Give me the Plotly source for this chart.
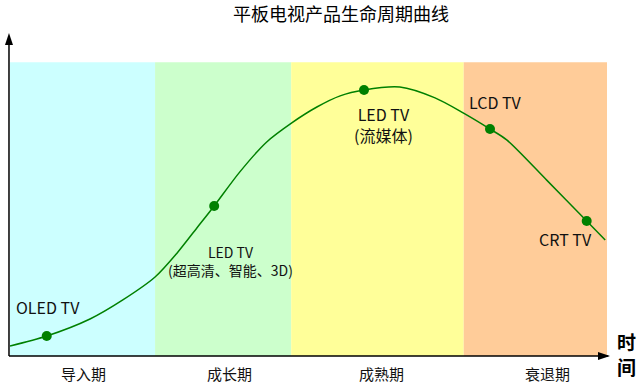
import plotly.graph_objects as go

# Curve samples (time position, sales level)
curve_x = [0, 6.15, 13.4, 18.9, 24.3, 28.0, 31.3, 34.2, 38.5, 43.0, 47.2, 51.4, 55.3, 59.3,
           65.3, 71.2, 75.9, 80.4, 83.2, 89.9, 96.6, 99.7]
curve_y = [3.4, 6.8, 12.6, 19.1, 26.9, 35.1, 43.6, 51.1, 62.7, 72.9, 79.4, 84.8, 88.6, 90.6,
           91.6, 87.9, 82.8, 77.3, 73.6, 59.9, 46.0, 39.5]

# Product points
point_x = [6.15, 34.2, 59.3, 80.4, 96.6]
point_y = [6.8, 51.1, 90.6, 77.3, 46.0]

# Phase bands
phase_names = ["导入期", "成长期", "成熟期", "衰退期"]
phase_edges = [0, 24.3, 47.1, 76.0, 100]
phase_colors = ["#ccffff", "#ccffcc", "#ffff99", "#ffcc99"]
phase_label_x = [12.3, 36.7, 62.3, 90.1]
band_top = 100

# Labels
label_texts = ["OLED TV", "LED TV<br>(超高清、智能、3D)", "LED TV<br>(流媒体)", "LCD TV", "CRT TV"]
label_x = [6.4, 36.9, 62.5, 81.4, 93.0]
label_y = [16.7, 32.2, 78.7, 86.5, 39.9]
label_sizes = [16, 14, 16, 16, 16]

FONT = "Noto Sans CJK SC"

fig = go.Figure()

fig.add_trace(go.Scatter(x=curve_x, y=curve_y, mode="lines",
                         line=dict(color="#008000", width=1.5, shape="spline", smoothing=0.8),
                         hoverinfo="skip", showlegend=False))
fig.add_trace(go.Scatter(x=point_x, y=point_y, mode="markers",
                         marker=dict(color="#008000", size=10),
                         showlegend=False))

shapes = []
for i in range(4):
    shapes.append(dict(type="rect", xref="x", yref="y",
                       x0=phase_edges[i], x1=phase_edges[i + 1], y0=0, y1=band_top,
                       fillcolor=phase_colors[i], line=dict(width=0), layer="below"))

# axis lines with arrowheads (paper-referenced so they are not clipped)
ax_x = -0.0017
shapes.append(dict(type="line", xref="paper", yref="paper", x0=ax_x, x1=ax_x, y0=0, y1=0.98,
                   line=dict(color="black", width=1.5)))
shapes.append(dict(type="line", xref="paper", yref="paper", x0=ax_x, x1=1.002, y0=0, y1=0,
                   line=dict(color="black", width=1.5)))
shapes.append(dict(type="path", xref="paper", yref="paper", xsizemode="pixel", ysizemode="pixel",
                   xanchor=ax_x, yanchor=1, path="M0,0 L-4,-12 L4,-12 Z",
                   fillcolor="black", line=dict(width=0)))
shapes.append(dict(type="path", xref="paper", yref="paper", xsizemode="pixel", ysizemode="pixel",
                   xanchor=1.005, yanchor=0, path="M0,0 L-12,-4 L-12,4 Z",
                   fillcolor="black", line=dict(width=0)))

annotations = []
for t, x, y, s in zip(label_texts, label_x, label_y, label_sizes):
    annotations.append(dict(x=x, y=y, xref="x", yref="y", text=t, showarrow=False,
                            font=dict(family=FONT, size=s, color="#111111")))
for name, x in zip(phase_names, phase_label_x):
    annotations.append(dict(x=x, y=0, xref="x", yref="paper", text=name, showarrow=False,
                            yanchor="middle", yshift=-17,
                            font=dict(family=FONT, size=15, color="#111111")))

annotations.append(dict(x=1.0335, y=0, xref="paper", yref="paper", text="<b>时<br>间</b>",
                        showarrow=False, xanchor="center", yanchor="middle", yshift=2,
                        font=dict(family=FONT, size=19, color="black")))

fig.update_layout(
    width=640, height=389,
    margin=dict(l=10, r=33, t=33, b=33, autoexpand=False),
    paper_bgcolor="white", plot_bgcolor="white",
    title=dict(text="平板电视产品生命周期曲线", x=0.533, xref="container", xanchor="center",
               y=0.963, yref="container", yanchor="middle",
               font=dict(family=FONT, size=18, color="black")),
    xaxis=dict(range=[0, 100], showgrid=False, zeroline=False, showticklabels=False,
               showline=False, ticks=""),
    yaxis=dict(range=[0, 110], showgrid=False, zeroline=False, showticklabels=False,
               showline=False, ticks=""),
    shapes=shapes,
    annotations=annotations,
)

fig.write_html("out.html", config={"displayModeBar": False},
               post_script="document.body.style.margin='0';")
